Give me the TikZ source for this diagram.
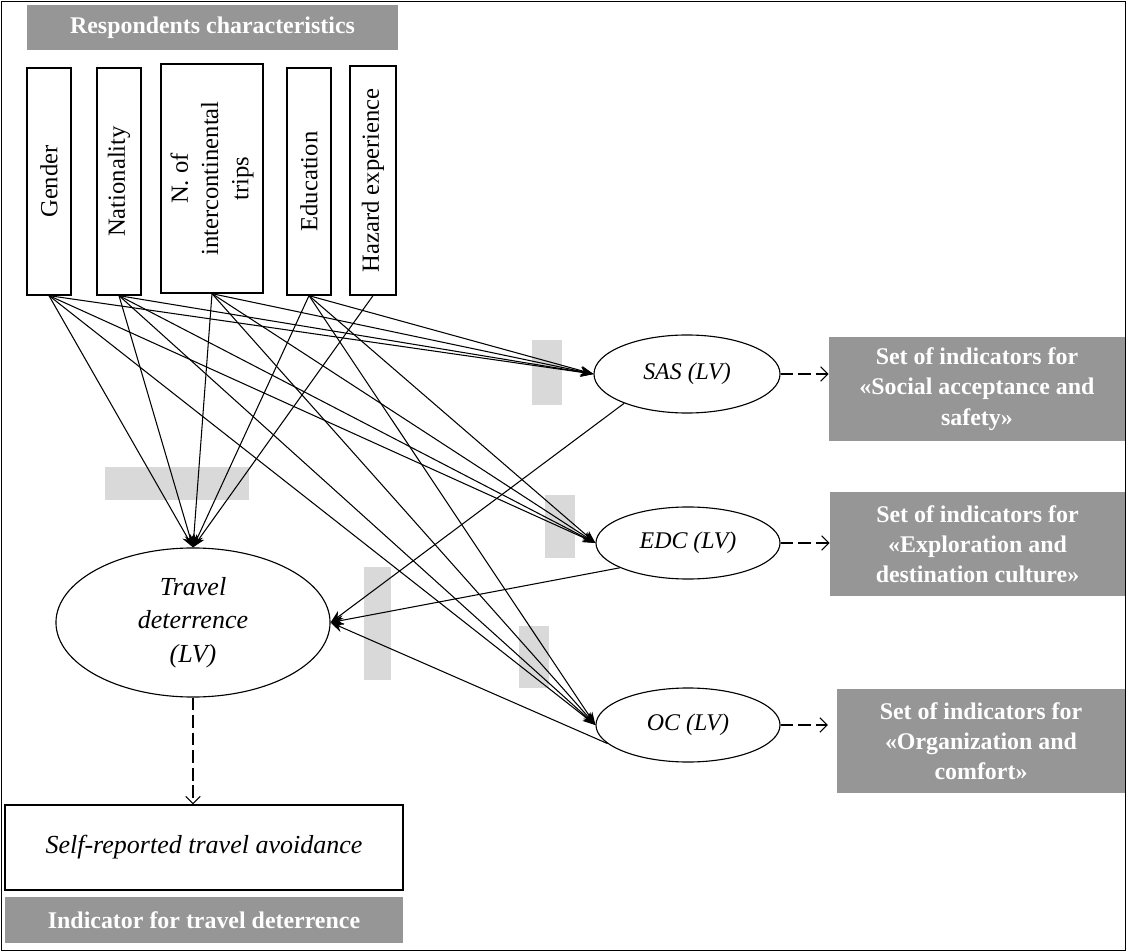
\documentclass[tikz,border=0pt]{standalone}
\usepackage{fontspec}
\setmainfont{Liberation Serif}
\usepackage{graphicx}
\usetikzlibrary{arrows.meta,shapes.geometric}
\definecolor{boxgray}{RGB}{150,150,150}
\definecolor{patchgray}{RGB}{217,217,217}

\begin{document}
\begin{tikzpicture}[x=0.025cm, y=-0.025cm,
    charbox/.style={draw, line width=0.9pt, inner sep=0pt,
      minimum width=1.1cm, minimum height=5.675cm,
      font=\fontsize{17.5}{21.5}\selectfont},
    lv/.style={draw, ellipse, line width=0.8pt, inner sep=0pt,
      align=center, font=\fontsize{17}{23}\selectfont\itshape},
    graybox/.style={fill=boxgray, text=white, inner sep=0pt, align=center,
      font=\fontsize{17}{21.5}\selectfont\bfseries},
    patch/.style={fill=patchgray},
    effect/.style={line width=0.75pt, -{Stealth[length=3.2mm,width=2.4mm]}},
    indarrow/.style={line width=0.8pt, dash pattern=on 9pt off 3.5pt,
      -{Straight Barb[length=1.8mm,width=3.6mm]}}
  ]
  \useasboundingbox (0,0) rectangle (1127,952);
  \draw[line width=1.2pt] (1.5,1.5) rectangle (1125.5,950.5);

  % grey patches
  \fill[patch] (532,340) rectangle (562,405);
  \fill[patch] (545,495) rectangle (575,558);
  \fill[patch] (105,467) rectangle (249,500);
  \fill[patch] (364,567) rectangle (391,680);
  \fill[patch] (519,626) rectangle (549,688);

  % respondents characteristics
  \node[graybox, minimum width=9.275cm, minimum height=1.125cm] (title) at (212.5,27.5)
    {Respondents characteristics};
  \node[charbox] (gender) at (49,181.5) {\rotatebox{90}{Gender}};
  \node[charbox] (nation) at (119,181.5) {\rotatebox{90}{Nationality}};
  \node[charbox, minimum width=2.55cm, minimum height=5.725cm] (trips) at (212,178.5)
    {\rotatebox{90}{\begin{tabular}{@{}c@{}}N. of\\intercontinental\\trips\end{tabular}}};
  \node[charbox] (educ) at (309,181.5) {\rotatebox{90}{Education}};
  \node[charbox, minimum width=1.15cm, minimum height=5.725cm] (hazard) at (373,180.5)
    {\rotatebox{90}{Hazard experience}};

  % latent variables
  \node[lv, minimum width=6.85cm, minimum height=3.725cm, font=\fontsize{18.5}{24}\selectfont\itshape]
    (td) at (193,622.5) {Travel\\deterrence\\(LV)};
  \node[lv, minimum width=4.65cm, minimum height=1.95cm] (sas) at (687,374) {SAS (LV)};
  \node[lv, minimum width=4.6cm, minimum height=1.8cm] (edc) at (688,543) {EDC (LV)};
  \node[lv, minimum width=4.6cm, minimum height=1.85cm] (oc) at (688,725) {OC (LV)};

  % indicators
  \node[graybox, minimum width=7.4cm, minimum height=2.6cm] (sasind) at (977,389)
    {Set of indicators for\\«Social acceptance and\\safety»};
  \node[graybox, minimum width=7.375cm, minimum height=2.6cm] (edcind) at (977.5,544)
    {Set of indicators for\\«Exploration and\\destination culture»};
  \node[graybox, minimum width=7.2cm, minimum height=2.6cm] (ocind) at (981,741)
    {Set of indicators for\\«Organization and\\comfort»};
  \node[draw, line width=0.9pt, minimum width=9.95cm, minimum height=2.125cm,
    font=\fontsize{18.5}{22}\selectfont\itshape] (self) at (204,847.5)
    {Self-reported travel avoidance};
  \node[graybox, minimum width=9.95cm, minimum height=1.15cm] (tdind) at (204,920)
    {Indicator for travel deterrence};

  % structural paths
  \foreach \src in {gender,nation,trips,educ,hazard}
    \draw[effect] (\src.south) -- (td.north);
  \foreach \src in {gender,nation,trips,educ}
    \foreach \lat in {sas,edc,oc}
      \draw[effect] (\src.south) -- (\lat.west);
  \draw[effect] (sas.205) -- (td.east);
  \draw[effect] (edc.200) -- (td.east);
  \draw[effect] (oc.193) -- (td.east);

  % measurement
  \draw[indarrow] (td.south) -- (td.south |- self.north);
  \draw[indarrow] (sas.east) -- (sas.east -| sasind.west);
  \draw[indarrow] (edc.east) -- (edc.east -| edcind.west);
  \draw[indarrow, shorten >=0.22cm] (oc.east) -- (oc.east -| ocind.west);
\end{tikzpicture}
\end{document}
